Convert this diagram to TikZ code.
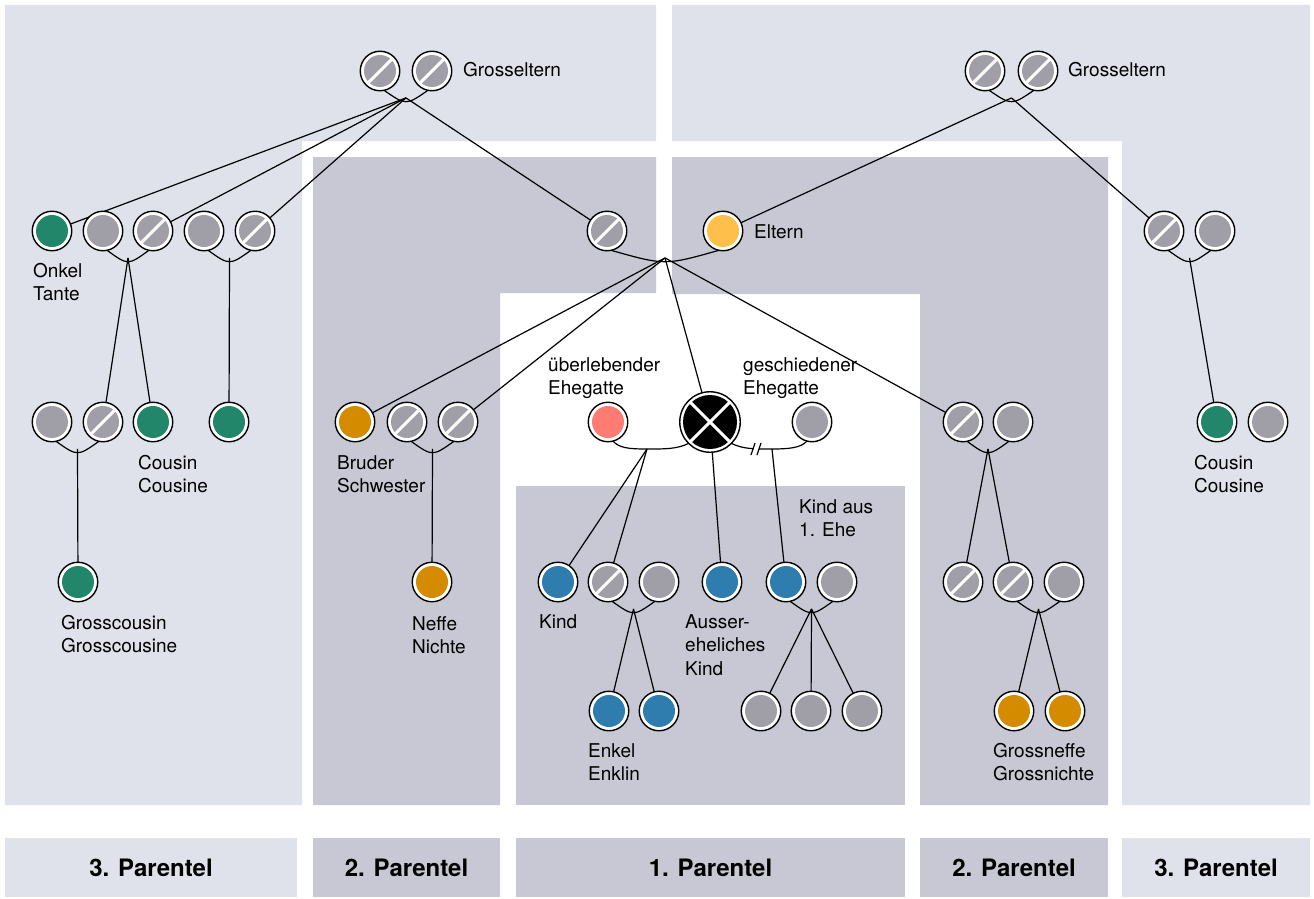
\documentclass[tikz,border=0pt]{standalone}
\usepackage{fontspec}
\setmainfont{TeX Gyre Heros}
\usetikzlibrary{calc}

\pgfdeclarelayer{panels}
\pgfdeclarelayer{wires}
\pgfsetlayers{panels,wires,main}

\definecolor{panelLight}{RGB}{224,226,235}
\definecolor{panelDark}{RGB}{199,200,211}
\definecolor{pGrey}{RGB}{160,159,168}
\definecolor{pGreen}{RGB}{33,134,106}
\definecolor{pYellow}{RGB}{255,192,75}
\definecolor{pOrange}{RGB}{212,139,0}
\definecolor{pSalmon}{RGB}{255,123,115}
\definecolor{pBlue}{RGB}{47,125,175}

\tikzset{
  personbase/.style={circle, draw=black, line width=1.4pt, fill=white,
    minimum size=39.5pt, inner sep=0pt, outer sep=0pt},
  kin/.style={personbase, path picture={
    \fill[#1] (path picture bounding box.center) circle (16pt);}},
  gone/.style={personbase, path picture={
    \fill[pGrey] (path picture bounding box.center) circle (16pt);
    \draw[white, line width=3pt]
      ($(path picture bounding box.center)+(-12pt,-12pt)$) --
      ($(path picture bounding box.center)+(12pt,12pt)$);}},
  deceased/.style={circle, draw=black, line width=1.4pt, fill=white,
    minimum size=60.5pt, inner sep=0pt, outer sep=0pt, path picture={
    \fill[black] (path picture bounding box.center) circle (27pt);
    \draw[white, line width=3pt]
      ($(path picture bounding box.center)+(-20pt,-20pt)$) --
      ($(path picture bounding box.center)+(20pt,20pt)$);
    \draw[white, line width=3pt]
      ($(path picture bounding box.center)+(-20pt,20pt)$) --
      ($(path picture bounding box.center)+(20pt,-20pt)$);}},
  wire/.style={draw=black, line width=1.2pt},
  % multi-line labels sit on the baseline of their last line
  lbl/.style={anchor=base west, align=left, inner sep=0pt,
    font=\fontsize{19}{23.5}\selectfont},
  tab/.style={minimum height=59pt, inner sep=0pt,
    font=\fontsize{24}{28}\selectfont\bfseries}
}

% arc joining a couple, with a junction coordinate at its lowest point
\newcommand\couple[3]{%
  \coordinate (#3) at ($(#1.282)!0.5!(#2.258)+(0,7.6)$);
  \draw[wire] (#1.282) .. controls ($(#1.282)!0.5!(#2.258)+(0,15.2)$) .. (#2.258);}

\begin{document}
\begin{tikzpicture}[x=1pt,y=-1pt]
\useasboundingbox (0,0) rectangle (1314,899);

% ---------- background panels ----------
\begin{pgfonlayer}{panels}
  \fill[white] (0,0) rectangle (1314,899);
  \fill[panelLight] (5,5) -- (656,5) -- (656,141) -- (302,141) -- (302,805) -- (5,805) -- cycle;
  \fill[panelLight] (672,5) -- (1310,5) -- (1310,805) -- (1122,805) -- (1122,141) -- (672,141) -- cycle;
  \fill[panelDark] (313,157) -- (656,157) -- (656,293) -- (500,293) -- (500,805) -- (313,805) -- cycle;
  \fill[panelDark] (672,157) -- (1108,157) -- (1108,805) -- (920,805) -- (920,294) -- (672,294) -- cycle;
  \fill[panelDark] (516,486) rectangle (905,805);
\end{pgfonlayer}

% ---------- bottom tabs ----------
\node[tab, fill=panelLight, minimum width=292pt] (tab3l) at (151,867.5) {3. Parentel};
\node[tab, fill=panelDark, minimum width=187pt] (tab2l) at (406.5,867.5) {2. Parentel};
\node[tab, fill=panelDark, minimum width=389pt] (tab1) at (710.5,867.5) {1. Parentel};
\node[tab, fill=panelDark, minimum width=188pt] (tab2r) at (1014,867.5) {2. Parentel};
\node[tab, fill=panelLight, minimum width=188pt] (tab3r) at (1216,867.5) {3. Parentel};

% ---------- persons ----------
% grandparents
\node[gone] (gpL1) at (380,71) {};
\node[gone] (gpL2) at (432,71) {};
\node[gone] (gpR1) at (985,71) {};
\node[gone] (gpR2) at (1038,71) {};

% parents' generation
\node[kin=pGreen] (onkel) at (52,231) {};
\node[kin=pGrey]  (uA) at (103,231) {};
\node[gone]       (uB) at (153,231) {};
\node[kin=pGrey]  (uC) at (204,231) {};
\node[gone]       (uD) at (255,231) {};
\node[gone]        (par1) at (607,231) {};
\node[kin=pYellow] (par2) at (723,231) {};
\node[gone]      (aR1) at (1164,231) {};
\node[kin=pGrey] (aR2) at (1215,231) {};

% own generation
\node[kin=pGrey]  (cA) at (52,422) {};
\node[gone]       (cB) at (103,422) {};
\node[kin=pGreen] (cousin1) at (153,422) {};
\node[kin=pGreen] (cousin2) at (229,422) {};
\node[kin=pOrange] (sib1) at (355,422) {};
\node[gone]        (sib2) at (407,422) {};
\node[gone]        (sib3) at (458,422) {};
\node[kin=pSalmon] (spouse) at (608,422) {};
\node[deceased]    (dec) at (710,422) {};
\node[kin=pGrey]   (ex) at (812,422) {};
\node[gone]      (sibR1) at (963,422) {};
\node[kin=pGrey] (sibR2) at (1013,422) {};
\node[kin=pGreen] (cousinR) at (1217,422) {};
\node[kin=pGrey]  (cousinRsp) at (1268,422) {};

% children's generation
\node[kin=pGreen]  (gc) at (78,582) {};
\node[kin=pOrange] (nephew) at (432,582) {};
\node[kin=pBlue] (kind) at (558,582) {};
\node[gone]      (kindB) at (608,582) {};
\node[kin=pGrey] (kindSp) at (659,582) {};
\node[kin=pBlue] (aek) at (722,582) {};
\node[kin=pBlue] (kfe) at (786,582) {};
\node[kin=pGrey] (kfeSp) at (837,582) {};
\node[gone]      (nR1) at (963,582) {};
\node[gone]      (nR2) at (1013,582) {};
\node[kin=pGrey] (nR2sp) at (1064,582) {};

% grandchildren's generation
\node[kin=pBlue] (enk1) at (609,711) {};
\node[kin=pBlue] (enk2) at (659,711) {};
\node[kin=pGrey] (g1) at (761,711) {};
\node[kin=pGrey] (g2) at (811,711) {};
\node[kin=pGrey] (g3) at (862,711) {};
\node[kin=pOrange] (gn1) at (1014,711) {};
\node[kin=pOrange] (gn2) at (1065,711) {};

% ---------- labels ----------
\node[lbl] (lGpL) at (463,77) {Grosseltern};
\node[lbl] (lGpR) at (1068,77) {Grosseltern};
\node[lbl] (lEltern) at (754,238) {Eltern};
\node[lbl] (lOnkel) at (33,300.5) {Onkel\\Tante};
\node[lbl] (lCousin) at (138,492.5) {Cousin\\Cousine};
\node[lbl] (lCousinR) at (1194,492.5) {Cousin\\Cousine};
\node[lbl] (lGc) at (61,652.5) {Grosscousin\\Grosscousine};
\node[lbl] (lSib) at (337,492.5) {Bruder\\Schwester};
\node[lbl] (lNeffe) at (412,653.5) {Neffe\\Nichte};
\node[lbl] (lSpouse) at (548,394.5) {überlebender\\Ehegatte};
\node[lbl] (lEx) at (743,394.5) {geschiedener\\Ehegatte};
\node[lbl] (lKfe) at (799,536.5) {Kind aus\\1. Ehe};
\node[lbl] (lKind) at (539,628) {Kind};
\node[lbl] (lAek) at (685,675) {Ausser-\\eheliches\\Kind};
\node[lbl] (lEnkel) at (588,780.5) {Enkel\\Enklin};
\node[lbl] (lGn) at (993,780.5) {Grossneffe\\Grossnichte};

% ---------- connectors ----------
\begin{pgfonlayer}{wires}
  \couple{gpL1}{gpL2}{jGL}
  \draw[wire] (jGL) -- (onkel);
  \draw[wire] (jGL) -- (uB);
  \draw[wire] (jGL) -- (uD);
  \draw[wire] (jGL) -- (par1);

  \couple{gpR1}{gpR2}{jGR}
  \draw[wire] (jGR) -- (par2);
  \draw[wire] (jGR) -- (aR1);

  \couple{uA}{uB}{jU1}
  \draw[wire] (jU1) -- (cB);
  \draw[wire] (jU1) -- (cousin1);
  \couple{uC}{uD}{jU2}
  \draw[wire] (jU2) -- (cousin2);
  \couple{cA}{cB}{jC}
  \draw[wire] (jC) -- (gc);

  \couple{par1}{par2}{jP}
  \draw[wire] (jP) -- (sib1);
  \draw[wire] (jP) -- (sib3);
  \draw[wire] (jP) -- (dec);
  \draw[wire] (jP) -- (sibR1);

  \couple{sib2}{sib3}{jS}
  \draw[wire] (jS) -- (nephew);

  % surviving spouse and the deceased
  \coordinate (jW) at (647,449);
  \draw[wire] (spouse.285) .. controls +(6,7) and +(-18,0) .. (jW)
              .. controls +(16,0) and +(-12,6) .. (dec.225);
  \draw[wire] (jW) -- (kind);
  \draw[wire] (jW) -- (kindB);
  \draw[wire] (dec) -- (aek);

  % divorced spouse
  \coordinate (jE) at (772,449);
  \draw[wire] (dec.315) .. controls +(12,6) and +(-16,0) .. (jE)
              .. controls +(16,0) and +(-6,7) .. (ex.255);
  \draw[wire] (jE) -- (kfe);
  \fill[white] (753.5,443) rectangle (758.5,455);
  \draw[wire] (751,455) -- (755,443);
  \draw[wire] (757,455) -- (761,443);

  \couple{kindB}{kindSp}{jK}
  \draw[wire] (jK) -- (enk1);
  \draw[wire] (jK) -- (enk2);
  \couple{kfe}{kfeSp}{jF}
  \draw[wire] (jF) -- (g1);
  \draw[wire] (jF) -- (g2);
  \draw[wire] (jF) -- (g3);

  \couple{sibR1}{sibR2}{jSR}
  \draw[wire] (jSR) -- (nR1);
  \draw[wire] (jSR) -- (nR2);
  \couple{nR2}{nR2sp}{jN}
  \draw[wire] (jN) -- (gn1);
  \draw[wire] (jN) -- (gn2);

  \couple{aR1}{aR2}{jAR}
  \draw[wire] (jAR) -- (cousinR);
\end{pgfonlayer}
\end{tikzpicture}
\end{document}
